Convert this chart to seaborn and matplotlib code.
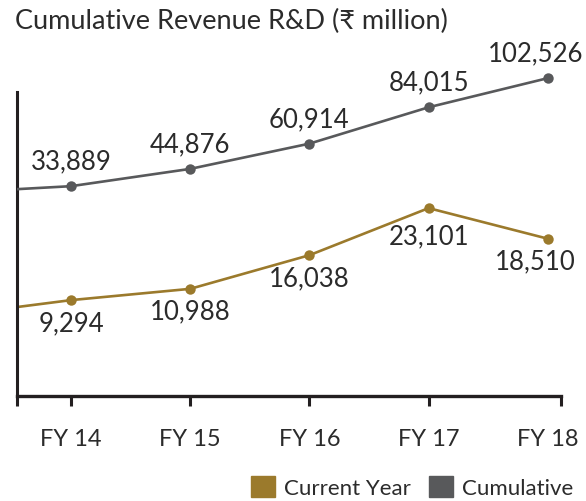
import matplotlib
matplotlib.use("Agg")
import matplotlib.pyplot as plt
from matplotlib.patches import Patch
import seaborn as sns
import pandas as pd

# fiscal years (13 is only the lead-in segment at the left edge)
fiscal_year = [13, 14, 15, 16, 17, 18]
year_labels = ["FY 14", "FY 15", "FY 16", "FY 17", "FY 18"]
current_year = [7000, 9294, 10988, 16038, 23101, 18510]
cumulative = [29700, 33889, 44876, 60914, 84015, 102526]

GOLD = "#9b7a2c"
GREY = "#58595b"
TEXT = "#2b2b2b"
AXIS = "#231f20"

df = pd.DataFrame({"fy": fiscal_year, "current": current_year, "cumulative": cumulative})

sns.set_style("white")
plt.rcParams["font.family"] = ["Lato", "DejaVu Sans"]

fig = plt.figure(figsize=(5.86, 5.02), dpi=100)
ax = fig.add_axes([0.029, 0.209, 0.928, 0.671])
ax2 = ax.twinx()

sns.lineplot(data=df, x="fy", y="current", ax=ax, color=GOLD, lw=1.9,
             marker="o", markersize=7.5, markeredgewidth=0)
sns.lineplot(data=df, x="fy", y="cumulative", ax=ax2, color=GREY, lw=1.9,
             marker="o", markersize=7.5, markeredgewidth=0)

x_lo, x_hi = 13.547, 18.109
for a in (ax, ax2):
    a.set_xlim(x_lo, x_hi)
    a.set_xlabel("")
    a.set_ylabel("")
    a.set_yticks([])
ax.set_ylim(-5106, 45444)
ax2.set_ylim(-99461, 114534)

# value labels
for i, (f, v) in enumerate(zip(fiscal_year, current_year)):
    if i == 0:
        continue
    dy = -16 if v < 20000 else -20
    dx = -9 if f == 18 else 0
    ax.annotate(f"{v:,}", (f, v), xytext=(dx, dy), textcoords="offset points",
                ha="center", va="center", fontsize=18.5, color=TEXT)
for i, (f, v) in enumerate(zip(fiscal_year, cumulative)):
    if i == 0:
        continue
    dx = -9 if f == 18 else 0
    ax2.annotate(f"{v:,}", (f, v), xytext=(dx, 18), textcoords="offset points",
                 ha="center", va="center", fontsize=18.5, color=TEXT)

# spines
for a in (ax, ax2):
    for s in ("top", "right"):
        a.spines[s].set_visible(False)
for s in ("left", "bottom"):
    ax2.spines[s].set_visible(False)
ax.spines["left"].set_color(AXIS)
ax.spines["left"].set_linewidth(2.2)
ax.spines["left"].set_bounds(-5106, 40494)
ax.spines["bottom"].set_color(AXIS)
ax.spines["bottom"].set_linewidth(2.4)

ax.set_xticks(fiscal_year[1:])
ax.set_xticklabels(year_labels)
ax.set_xticks([x_lo, x_hi], minor=True)
ax.tick_params(axis="x", which="both", direction="out", length=7, width=2.2,
               color=AXIS, bottom=True, labelsize=17, labelcolor=TEXT, pad=16)
ax.xaxis.get_major_ticks()[-1].tick1line.set_markersize(0)

fig.text(0.026, 0.982, "Cumulative Revenue R&D (₹ million)", ha="left", va="top",
         fontsize=19.5, color=TEXT)

handles = [Patch(color=GOLD, label="Current Year"), Patch(color=GREY, label="Cumulative")]
fig.legend(handles=handles, loc="lower right", bbox_to_anchor=(1.013, -0.034), ncol=2,
           frameon=False, fontsize=16, handlelength=1.1, handleheight=1.1,
           handletextpad=0.4, columnspacing=0.8, labelcolor=TEXT)

fig.savefig("out.png", dpi=100)
